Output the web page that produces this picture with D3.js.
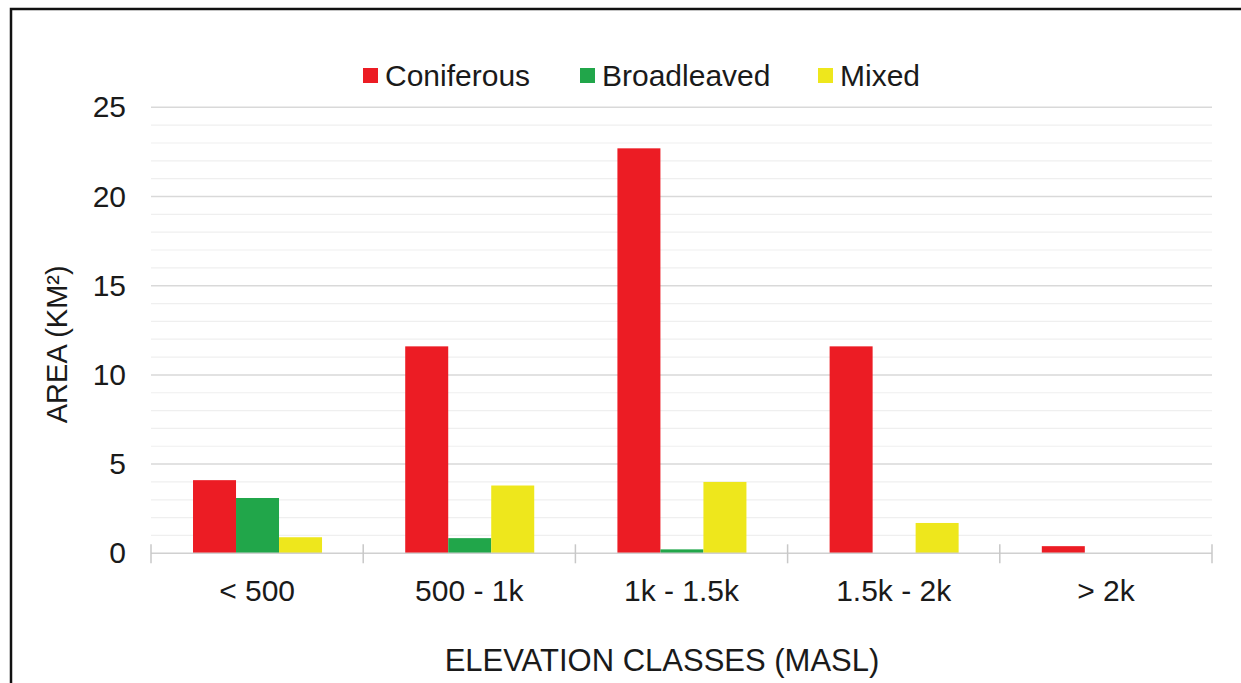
<!DOCTYPE html>
<html>
<head>
<meta charset="utf-8">
<script src="https://cdn.jsdelivr.net/npm/d3@7"></script>
<style>
  html, body { margin: 0; padding: 0; background: #ffffff; }
  svg { display: block; }
  text { font-family: "Liberation Sans", Arial, sans-serif; fill: #1a1a1a; }
</style>
</head>
<body>
<svg id="chart" width="1241" height="683"></svg>
<script>
// Forest area (km²) by elevation class
const categories = ["< 500", "500 - 1k", "1k - 1.5k", "1.5k - 2k", "> 2k"];
const seriesNames = ["Coniferous", "Broadleaved", "Mixed"];
const coniferous = [4.1, 11.6, 22.7, 11.6, 0.4];
const broadleaved = [3.1, 0.85, 0.22, 0, 0];
const mixed = [0.9, 3.8, 4.0, 1.7, 0];
const yTicks = [0, 5, 10, 15, 20, 25];
const colors = ["#ec1c24", "#21a64a", "#eee71c"];

const seriesValues = [coniferous, broadleaved, mixed];
const rows = categories.map((c, i) => ({
  category: c,
  values: seriesNames.map((s, j) => ({ series: s, value: seriesValues[j][i], color: colors[j] }))
}));

const svg = d3.select("#chart");

// outer frame
svg.append("rect")
  .attr("x", 11).attr("y", 9)
  .attr("width", 1300).attr("height", 800)
  .attr("fill", "none").attr("stroke", "#111").attr("stroke-width", 2.5);

const plot = { left: 151, right: 1212, top: 107.3, bottom: 553.3 };

const x = d3.scaleBand().domain(categories).range([plot.left, plot.right]).padding(0);
const bw = x.bandwidth();
const xs = d3.scaleBand().domain(seriesNames).range([bw * 0.198, bw * 0.806]).padding(0);
const y = d3.scaleLinear().domain([0, 25]).range([plot.bottom, plot.top]);

// minor gridlines (every 1 unit)
svg.append("g")
  .selectAll("line")
  .data(d3.range(1, 25).filter(v => v % 5 !== 0))
  .join("line")
  .attr("x1", plot.left).attr("x2", plot.right)
  .attr("y1", d => y(d)).attr("y2", d => y(d))
  .attr("stroke", "#efefef").attr("stroke-width", 1.2);

// major gridlines
svg.append("g")
  .selectAll("line")
  .data(yTicks.filter(v => v > 0))
  .join("line")
  .attr("x1", plot.left).attr("x2", plot.right)
  .attr("y1", d => y(d)).attr("y2", d => y(d))
  .attr("stroke", "#d9d9d9").attr("stroke-width", 1.5);

// y axis labels
const yAxis = d3.axisLeft(y).tickValues(yTicks).tickSize(0).tickPadding(0);
svg.append("g")
  .attr("transform", `translate(126,0)`)
  .call(yAxis)
  .call(g => g.select(".domain").remove())
  .call(g => g.selectAll("text")
    .attr("font-size", 30)
    .attr("font-family", "Liberation Sans, Arial, sans-serif")
    .attr("fill", "#1a1a1a"));

// bars
const groups = svg.append("g")
  .selectAll("g")
  .data(rows)
  .join("g")
  .attr("transform", d => `translate(${x(d.category)},0)`);

groups.selectAll("rect")
  .data(d => d.values)
  .join("rect")
  .attr("x", d => xs(d.series))
  .attr("width", xs.bandwidth())
  .attr("y", d => y(d.value))
  .attr("height", d => y(0) - y(d.value))
  .attr("fill", d => d.color);

// x axis baseline with crossing tick marks at category boundaries
svg.append("line")
  .attr("x1", plot.left).attr("x2", plot.right)
  .attr("y1", y(0)).attr("y2", y(0))
  .attr("stroke", "#d0d0d0").attr("stroke-width", 1.5);

const boundaries = categories.map(c => x(c)).concat([plot.right]);
svg.append("g")
  .selectAll("line")
  .data(boundaries)
  .join("line")
  .attr("x1", d => d).attr("x2", d => d)
  .attr("y1", y(0) - 9).attr("y2", y(0) + 10)
  .attr("stroke", "#c8c8c8").attr("stroke-width", 1.5);

// category labels
const xAxis = d3.axisBottom(x).tickSize(0).tickPadding(0);
svg.append("g")
  .attr("transform", `translate(0,${y(0) + 26})`)
  .call(xAxis)
  .call(g => g.select(".domain").remove())
  .call(g => g.selectAll("text")
    .attr("font-size", 30)
    .attr("font-family", "Liberation Sans, Arial, sans-serif")
    .attr("fill", "#1a1a1a"));

// axis titles
svg.append("text")
  .attr("x", 662)
  .attr("y", 671)
  .attr("text-anchor", "middle")
  .attr("font-size", 31)
  .text("ELEVATION CLASSES (MASL)");

svg.append("text")
  .attr("transform", `translate(67,${(plot.top + plot.bottom) / 2 + 14}) rotate(-90)`)
  .attr("text-anchor", "middle")
  .attr("font-size", 29)
  .text("AREA (KM²)");

// legend
const legendX = [363, 580, 818];
const legend = svg.append("g")
  .selectAll("g")
  .data(seriesNames)
  .join("g")
  .attr("transform", (d, i) => `translate(${legendX[i]},0)`);
legend.append("rect")
  .attr("x", 0).attr("y", 68)
  .attr("width", 15).attr("height", 15)
  .attr("fill", (d, i) => colors[i]);
legend.append("text")
  .attr("x", 22).attr("y", 85.5)
  .attr("font-size", 30)
  .text(d => d);
</script>
</body>
</html>
